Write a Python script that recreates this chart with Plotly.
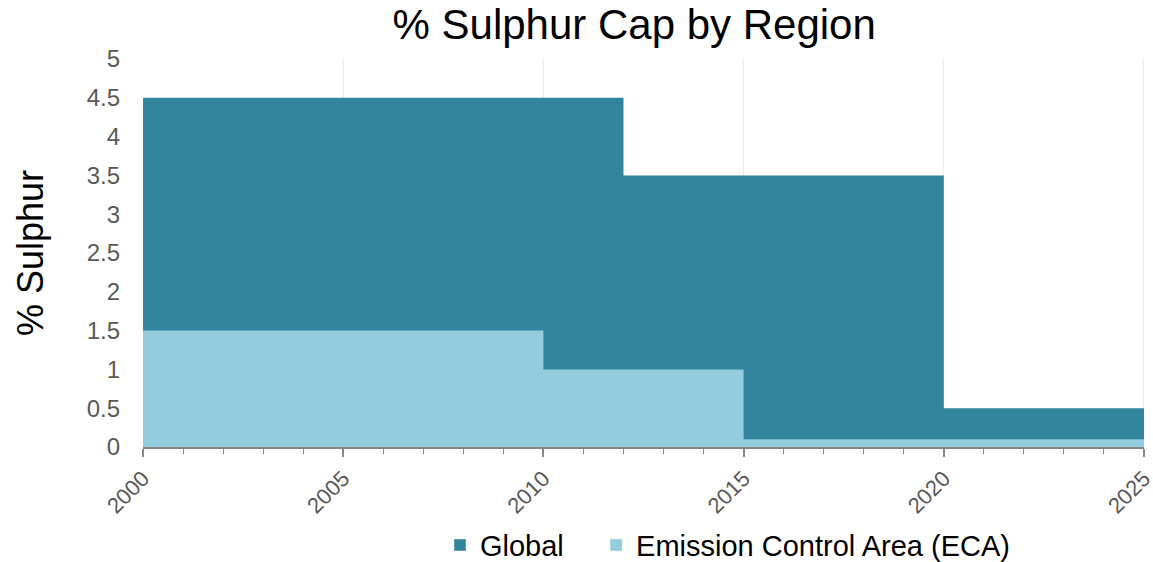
import plotly.graph_objects as go

global_years = [2000, 2012, 2020, 2025]
global_cap = [4.5, 3.5, 0.5, 0.5]
eca_years = [2000, 2010, 2015, 2025]
eca_cap = [1.5, 1.0, 0.1, 0.1]
x_ticks = [2000, 2005, 2010, 2015, 2020, 2025]

GLOBAL_C = "#31859C"
ECA_C = "#93CDDD"
GRID_C = "#EEEBE0"

fig = go.Figure()
fig.add_trace(go.Scatter(
    x=global_years, y=global_cap, name="Global", mode="lines",
    line=dict(shape="hv", width=0, color=GLOBAL_C),
    fill="tozeroy", fillcolor=GLOBAL_C, showlegend=False,
))
fig.add_trace(go.Scatter(
    x=eca_years, y=eca_cap, name="Emission Control Area (ECA)", mode="lines",
    line=dict(shape="hv", width=0, color=ECA_C),
    fill="tozeroy", fillcolor=ECA_C, showlegend=False,
))
# legend-only entries with square swatches
fig.add_trace(go.Bar(x=[None], y=[None], name="Global", marker_color=GLOBAL_C,
                     showlegend=True, legend="legend"))
fig.add_trace(go.Bar(x=[None], y=[None], name="Emission Control Area (ECA)", marker_color=ECA_C,
                     showlegend=True, legend="legend2"))

# gridline at the right edge of the axis (plotly hides edge gridlines)
fig.add_vline(x=x_ticks[-1], line=dict(color=GRID_C, width=2), layer="below")

legend_common = dict(orientation="h", xref="container", yref="container", xanchor="left",
                     y=0.030, yanchor="middle", font=dict(size=29, color="black"),
                     bgcolor="rgba(0,0,0,0)")

fig.update_layout(
    width=1153, height=562,
    margin=dict(l=143, r=9, t=59, b=115),
    paper_bgcolor="white", plot_bgcolor="white",
    font=dict(family="Liberation Sans, Arial, sans-serif"),
    title=dict(text="% Sulphur Cap by Region", x=0.55, xanchor="center", y=0.957, yanchor="middle",
               font=dict(size=42, color="black")),
    showlegend=True,
    legend=dict(x=0.3816, **legend_common),
    legend2=dict(x=0.517, **legend_common),
    xaxis=dict(
        range=[2000, 2025], tickmode="array", tickvals=x_ticks, ticktext=[str(v) for v in x_ticks],
        tickangle=-45, tickfont=dict(size=22, color="#595959"), ticklabeloverflow="allow",
        showgrid=True, gridcolor=GRID_C, gridwidth=1,
        showline=True, linecolor="#868686", linewidth=2,
        ticks="outside", ticklen=8, tickcolor="#868686", tickwidth=2,
        minor=dict(dtick=1, tick0=2000, ticks="outside", ticklen=5, tickcolor="#868686", tickwidth=1, showgrid=False),
        zeroline=False, automargin=False,
    ),
    yaxis=dict(
        range=[0, 5], tickmode="linear", tick0=0, dtick=0.5,
        tickfont=dict(size=24, color="#595959"),
        showgrid=False, zeroline=False, showline=False,
        ticks="", ticklabelstandoff=22, automargin=False,
        title=dict(text="% Sulphur", font=dict(size=36, color="black"), standoff=32),
    ),
)

fig.write_html("out.html", config={"displayModeBar": False},
               post_script="document.body.style.margin='0';document.body.style.overflow='hidden';")
